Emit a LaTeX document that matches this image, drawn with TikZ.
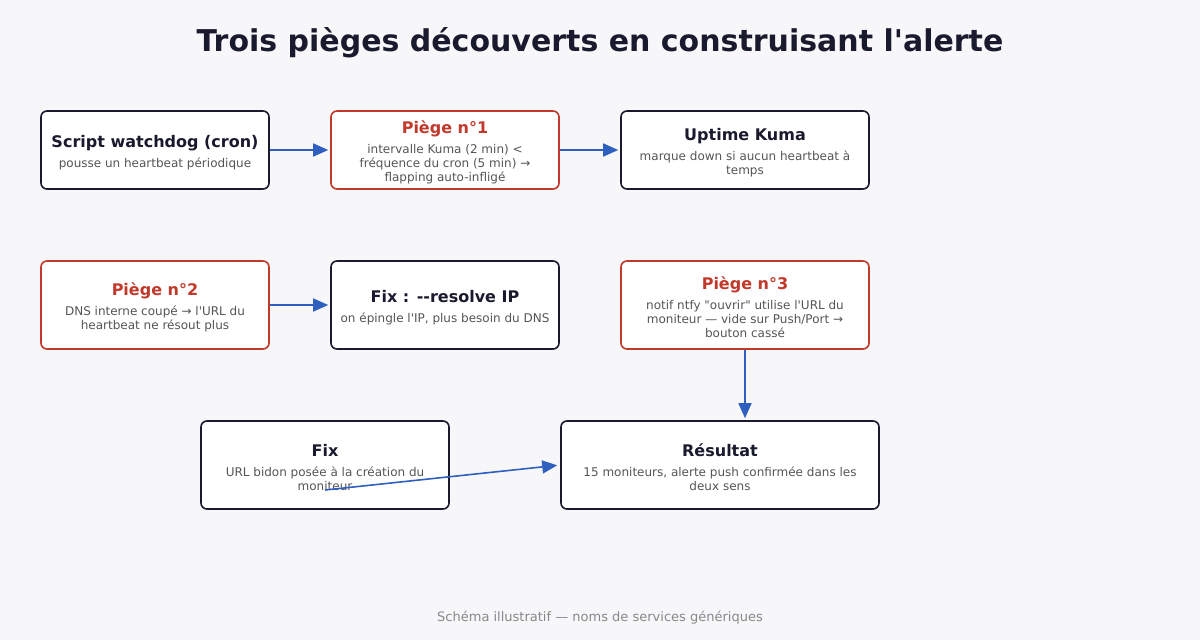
\documentclass[tikz,border=0pt]{standalone}
\usepackage{fontspec}
\usepackage{xcolor}
\usepackage{tikz}
\usetikzlibrary{arrows.meta,positioning,calc}
\newfontfamily\dejavu{DejaVu Sans}
\definecolor{cInk}{HTML}{1A1A2E}
\definecolor{cTrap}{HTML}{C0392B}
\definecolor{cFlow}{HTML}{2F5FBF}
\definecolor{cSub}{HTML}{555555}
\definecolor{cFoot}{HTML}{888888}
\definecolor{cBack}{HTML}{F7F7F9}
% title line in its own colour, then the grey lines below
\newcommand{\boxtext}[3][cInk]{\rule{0pt}{17pt}\textcolor{#1}{\fontsize{16}{19}\selectfont\bfseries #2}\\[6pt]#3}
\tikzset{
  card/.style   = {draw=cInk, fill=white, rounded corners=6pt, line width=1.6pt,
                   align=center, inner sep=4pt, text=cSub,
                   font=\dejavu\fontsize{12}{14}\selectfont},
  trap/.style   = {card, draw=cTrap},
  narrow/.style = {minimum width=228pt},
  wide/.style   = {minimum width=248pt},
  flow/.style   = {-{Triangle[length=15pt, width=13pt]}, draw=cFlow, line width=1.6pt},
}

\begin{document}
\begin{tikzpicture}[x=1pt, y=-1pt, node distance=70pt and 60.4pt]
  \useasboundingbox[fill=cBack] (0,0) rectangle (1200,640);
  \node[font=\dejavu\fontsize{30}{34}\selectfont\bfseries, text=cInk] (title) at (600,43)
    {Trois pièges découverts en construisant l'alerte};
  % row 1
  \node[card, narrow, minimum height=78pt] (cron) at (155,150)
    {\boxtext{Script watchdog (cron)}{pousse un heartbeat périodique}};
  \node[trap, narrow, minimum height=78pt, right=of cron] (trap1)
    {\boxtext[cTrap]{Piège n°1}{intervalle Kuma (2 min) <\\ fréquence du cron (5 min) →\\ flapping auto-infligé}};
  \node[card, wide, minimum height=78pt, right=of trap1] (kuma)
    {\boxtext{Uptime Kuma}{marque down si aucun heartbeat à\\ temps}};
  % row 2
  \node[trap, narrow, minimum height=88pt] (trap2) at (155,305)
    {\boxtext[cTrap]{Piège n°2}{DNS interne coupé → l'URL du\\ heartbeat ne résout plus}};
  \node[card, narrow, minimum height=88pt, right=of trap2] (resolve)
    {\boxtext{Fix : -{}-resolve IP}{on épingle l'IP, plus besoin du DNS}};
  \node[trap, wide, minimum height=88pt, right=of resolve] (trap3)
    {\boxtext[cTrap]{Piège n°3}{notif ntfy "ouvrir" utilise l'URL du\\ moniteur — vide sur Push/Port →\\ bouton cassé}};
  % row 3
  \node[card, wide, minimum height=88pt] (fix) at (325,465)
    {\boxtext{Fix}{URL bidon posée à la création du\\ moniteur}};
  \node[card, minimum width=318pt, minimum height=88pt] (result) at (720,465)
    {\boxtext{Résultat}{15 moniteurs, alerte push confirmée dans les\\ deux sens}};
  \coordinate (fixout) at ($(fix.center)+(0,25)$);
  % arrows
  \draw[flow, shorten >=2pt] (cron) -- (trap1);
  \draw[flow, shorten >=2pt] (trap1) -- (kuma);
  \draw[flow, shorten >=2pt] (trap2) -- (resolve);
  \draw[flow, shorten >=2pt] (trap3) -- (trap3 |- result.north);
  \draw[flow, shorten >=3pt] (fixout) -- (result.west);
  \node[font=\dejavu\fontsize{13}{16}\selectfont, text=cFoot] (foot) at (600,618)
    {Schéma illustratif — noms de services génériques};
\end{tikzpicture}
\end{document}
